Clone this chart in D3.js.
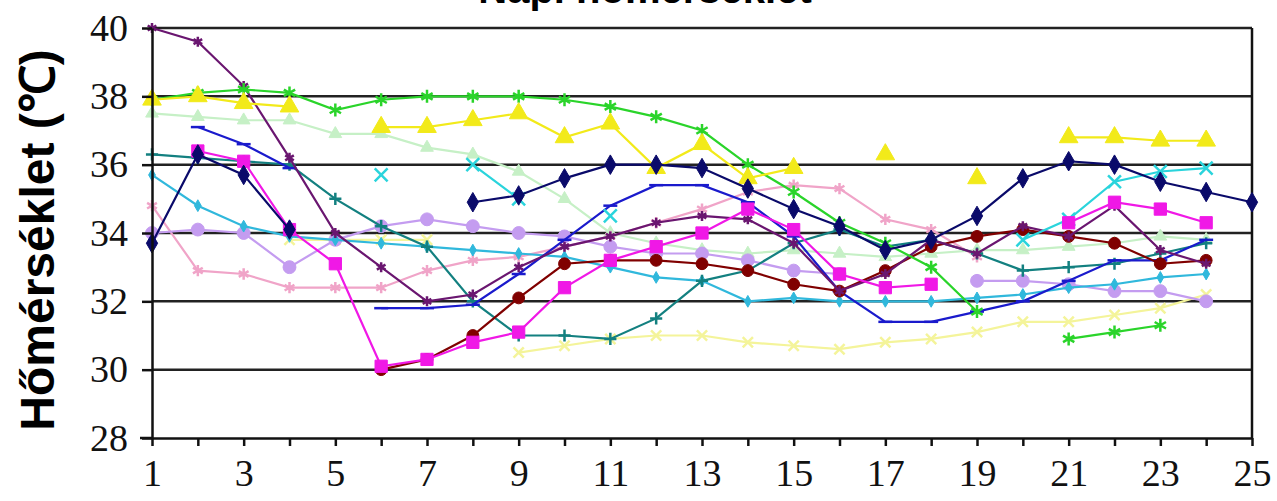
<!DOCTYPE html>
<html>
<head>
<meta charset="utf-8">
<script src="https://cdn.jsdelivr.net/npm/d3@7"></script>
<style>
  html, body { margin: 0; padding: 0; background: #fff; }
  svg { display: block; }
</style>
</head>
<body>
<div id="chart"></div>
<script>
// hours on the x axis
const hours = [1, 2, 3, 4, 5, 6, 7, 8, 9, 10, 11, 12, 13, 14, 15, 16, 17, 18, 19, 20, 21, 22, 23, 24, 25];
const xTicks = [1, 3, 5, 7, 9, 11, 13, 15, 17, 19, 21, 23, 25];
const yTicks = [28, 30, 32, 34, 36, 38, 40];

// temperature series (null = no reading)
const lightYellow = [null, null, null, 33.8, 33.8, 33.8, 33.8, null, 30.5, 30.7, 30.9, 31.0, 31.0, 30.8, 30.7, 30.6, 30.8, 30.9, 31.1, 31.4, 31.4, 31.6, 31.8, 32.2, null];
const lightGreen = [37.5, 37.4, 37.3, 37.3, 36.9, 36.9, 36.5, 36.3, 35.8, 35.0, 34.0, 33.7, 33.5, 33.4, 33.5, 33.4, 33.3, 33.4, 33.5, 33.5, 33.6, 33.7, 33.9, 33.8, null];
const rose = [34.8, 32.9, 32.8, 32.4, 32.4, 32.4, 32.9, 33.2, 33.3, 33.6, 33.9, 34.3, 34.7, 35.2, 35.4, 35.3, 34.4, 34.1, 33.3, null, null, null, null, null, null];
const lavender = [34.0, 34.1, 34.0, 33.0, 33.8, 34.2, 34.4, 34.2, 34.0, 33.9, 33.6, 33.4, 33.4, 33.2, 32.9, 32.8, null, null, 32.6, 32.6, 32.5, 32.3, 32.3, 32.0, null];
const skyBlue = [35.7, 34.8, 34.2, 33.9, 33.8, 33.7, 33.6, 33.5, 33.4, 33.3, 33.0, 32.7, 32.6, 32.0, 32.1, 32.0, 32.0, 32.0, 32.1, 32.2, 32.4, 32.5, 32.7, 32.8, null];
const teal = [36.3, 36.2, 36.1, 36.0, 35.0, 34.2, 33.6, 32.0, 31.0, 31.0, 30.9, 31.5, 32.6, 32.9, 33.7, 34.1, 33.6, 33.8, 33.4, 32.9, 33.0, 33.1, 33.4, 33.7, null];
const blue = [null, 37.1, 36.6, 35.9, null, 31.8, 31.8, 31.9, 32.8, 33.8, 34.8, 35.4, 35.4, 34.9, 33.9, 32.3, 31.4, 31.4, 31.7, 32.0, 32.6, 33.2, 33.2, 33.8, null];
const darkRed = [null, null, null, null, null, 30.0, 30.3, 31.0, 32.1, 33.1, 33.2, 33.2, 33.1, 32.9, 32.5, 32.3, 32.9, 33.6, 33.9, 34.1, 33.9, 33.7, 33.1, 33.2, null];
const purple = [40.0, 39.6, 38.3, 36.2, 34.0, 33.0, 32.0, 32.2, 33.0, 33.6, 33.9, 34.3, 34.5, 34.4, 33.7, 32.3, 32.8, 33.8, 33.4, 34.2, 33.9, 34.8, 33.5, 33.1, null];
const cyan = [null, null, null, null, null, 35.7, null, 36.0, 35.0, null, 34.5, null, null, null, null, null, null, null, null, 33.8, 34.4, 35.5, 35.8, 35.9, null];
const green = [37.9, 38.1, 38.2, 38.1, 37.6, 37.9, 38.0, 38.0, 38.0, 37.9, 37.7, 37.4, 37.0, 36.0, 35.2, 34.3, 33.7, 33.0, 31.7, null, 30.9, 31.1, 31.3, null, null];
const yellow = [37.9, 38.0, 37.8, 37.7, null, 37.1, 37.1, 37.3, 37.5, 36.8, 37.2, 35.9, 36.6, 35.6, 35.9, null, 36.3, null, 35.6, null, 36.8, 36.8, 36.7, 36.7, null];
const magenta = [null, 36.4, 36.1, 34.1, 33.1, 30.1, 30.3, 30.8, 31.1, 32.4, 33.2, 33.6, 34.0, 34.7, 34.1, 32.8, 32.4, 32.5, null, null, 34.3, 34.9, 34.7, 34.3, null];
const navy = [33.7, 36.3, 35.7, 34.1, null, null, null, 34.9, 35.1, 35.6, 36.0, 36.0, 35.9, 35.3, 34.7, 34.2, 33.5, 33.8, 34.5, 35.6, 36.1, 36.0, 35.5, 35.2, 34.9];

const dash = {
  draw(ctx, size) {
    const w = Math.sqrt(size) * 0.9;
    ctx.moveTo(-w, 0);
    ctx.lineTo(w, 0);
  }
};

// draw order: pale series underneath
const series = [
  { values: lightYellow, color: '#f4f49a', symbol: d3.symbolTimes, size: 70, stroke: true },
  { values: lightGreen, color: '#c6f0c6', symbol: d3.symbolTriangle, size: 70 },
  { values: rose, color: '#f0a4c8', symbol: d3.symbolAsterisk, size: 90, stroke: true },
  { values: lavender, color: '#c49cf0', symbol: d3.symbolCircle, size: 130 },
  { values: skyBlue, color: '#30b8dc', symbol: d3.symbolDiamond, size: 40 },
  { values: teal, color: '#138080', symbol: d3.symbolPlus, size: 50, stroke: true },
  { values: blue, color: '#1a1acc', symbol: dash, size: 60, stroke: true },
  { values: darkRed, color: '#800000', symbol: d3.symbolCircle, size: 110 },
  { values: purple, color: '#6a1670', symbol: d3.symbolAsterisk, size: 70, stroke: true },
  { values: cyan, color: '#2ad4dc', symbol: d3.symbolTimes, size: 110, stroke: true },
  { values: green, color: '#2ad42a', symbol: d3.symbolAsterisk, size: 120, stroke: true },
  { values: yellow, color: '#f2ea1a', symbol: d3.symbolTriangle, size: 150 },
  { values: magenta, color: '#f018e6', symbol: d3.symbolSquare, size: 150 },
  { values: navy, color: '#0a0a6a', symbol: d3.symbolDiamond, size: 110 }
];

const width = 1277, height = 501;
const svg = d3.select('#chart').append('svg')
  .attr('width', width)
  .attr('height', height);

const x = d3.scaleLinear().domain([1, 25]).range([152, 1252]);
const y = d3.scaleLinear().domain([28, 40]).range([438, 28]);

// title, mostly above the top edge as in the original crop
svg.append('text')
  .attr('x', 645)
  .attr('y', 3)
  .attr('text-anchor', 'middle')
  .style('font-family', 'Liberation Sans, Arial, sans-serif')
  .style('font-weight', 'bold')
  .style('font-size', '40px')
  .text('Napi hőmérséklet');

// horizontal grid lines
svg.append('g')
  .selectAll('line')
  .data(yTicks.filter(d => d > 28))
  .join('line')
  .attr('x1', x(1))
  .attr('x2', x(25))
  .attr('y1', d => y(d))
  .attr('y2', d => y(d))
  .attr('stroke', '#222')
  .attr('stroke-width', 2.5);

// right border
svg.append('line')
  .attr('x1', x(25)).attr('x2', x(25))
  .attr('y1', y(40)).attr('y2', y(28))
  .attr('stroke', '#111')
  .attr('stroke-width', 2.5);

const line = d3.line()
  .defined(d => d != null)
  .x((d, i) => x(hours[i]))
  .y(d => y(d));

series.forEach(s => {
  const g = svg.append('g');
  g.append('path')
    .datum(s.values)
    .attr('fill', 'none')
    .attr('stroke', s.color)
    .attr('stroke-width', 2.2)
    .attr('d', line);

  const pts = s.values.map((v, i) => ({ hour: hours[i], v })).filter(p => p.v != null);
  g.selectAll('path.mark')
    .data(pts)
    .join('path')
    .attr('class', 'mark')
    .attr('transform', p => `translate(${x(p.hour)},${y(p.v)})`)
    .attr('d', d3.symbol().type(s.symbol).size(s.size))
    .attr('fill', s.stroke ? 'none' : s.color)
    .attr('stroke', s.color)
    .attr('stroke-width', s.stroke ? 2.5 : 1);
});

// axes
const xAxis = svg.append('g')
  .attr('transform', `translate(0,${y(28)})`)
  .call(d3.axisBottom(x)
    .tickValues(hours)
    .tickSize(8)
    .tickSizeOuter(0)
    .tickPadding(13)
    .tickFormat(d => xTicks.includes(d) ? d : ''));

const yAxis = svg.append('g')
  .attr('transform', `translate(${x(1)},0)`)
  .call(d3.axisLeft(y)
    .tickValues(yTicks)
    .tickSize(10)
    .tickSizeOuter(0)
    .tickPadding(14));

[xAxis, yAxis].forEach(a => {
  a.select('.domain').attr('stroke', '#111').attr('stroke-width', 2.5);
  a.selectAll('.tick line').attr('stroke', '#111').attr('stroke-width', 2.5);
  a.selectAll('text')
    .style('font-family', 'Liberation Serif, Times New Roman, serif')
    .style('font-size', '38px')
    .attr('fill', '#111');
});

// x axis line extends a little to the left like the original
svg.append('line')
  .attr('x1', 140).attr('x2', x(1))
  .attr('y1', y(28)).attr('y2', y(28))
  .attr('stroke', '#111').attr('stroke-width', 2.5);

svg.append('text')
  .attr('transform', 'translate(54,240) rotate(-90)')
  .attr('text-anchor', 'middle')
  .style('font-family', 'Liberation Sans, Arial, sans-serif')
  .style('font-weight', 'bold')
  .style('font-size', '48px')
  .attr('fill', '#000')
  .text('Hőmérséklet (℃)');
</script>
</body>
</html>
